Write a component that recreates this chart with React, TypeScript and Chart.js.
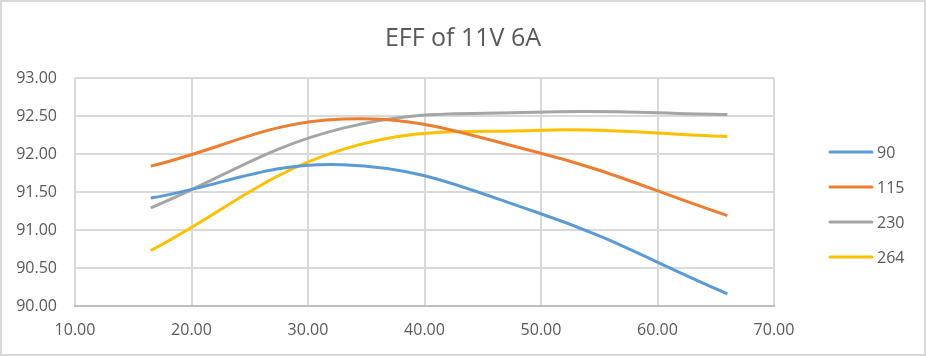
import React, { useEffect, useRef } from "react";
import { Chart, registerables } from "chart.js";

Chart.register(...registerables);

const chartTitle = "EFF of 11V 6A";
const loadWatts = [16.5, 33, 49.5, 66];
const seriesNames = ["90", "115", "230", "264"];
const eff90 = [91.42, 91.86, 91.24, 90.16];
const eff115 = [91.84, 92.46, 92.03, 91.19];
const eff230 = [91.29, 92.34, 92.55, 92.52];
const eff264 = [90.73, 92.06, 92.31, 92.23];
const seriesColors = ["#5B9BD5", "#ED7D31", "#A5A5A5", "#FFC000"];
const xMin = 10;
const xMax = 70;
const xStep = 10;
const yMin = 90;
const yMax = 93;
const yStep = 0.5;

const FONT = "'Open Sans', 'Noto Sans', sans-serif";
const TEXT = "#595959";

const decorPlugin = {
  id: "decor",
  beforeDraw(chart: any) {
    const ctx = chart.ctx;
    ctx.save();
    ctx.fillStyle = "#ffffff";
    ctx.fillRect(0, 0, chart.width, chart.height);
    ctx.restore();
  },
  afterDraw(chart: any) {
    const ctx = chart.ctx;
    ctx.save();
    // title
    ctx.fillStyle = TEXT;
    ctx.font = `25px ${FONT}`;
    ctx.textAlign = "center";
    ctx.textBaseline = "alphabetic";
    ctx.fillText(chartTitle, chart.width / 2, 46);
    // legend
    const lx0 = 830;
    const lx1 = 872;
    const startY = 152;
    const gap = 35;
    ctx.font = `16px ${FONT}`;
    ctx.textAlign = "left";
    ctx.textBaseline = "middle";
    chart.data.datasets.forEach((ds: any, i: number) => {
      const y = startY + i * gap;
      ctx.strokeStyle = ds.borderColor;
      ctx.lineWidth = 3;
      ctx.lineCap = "round";
      ctx.beginPath();
      ctx.moveTo(lx0, y);
      ctx.lineTo(lx1, y);
      ctx.stroke();
      ctx.fillStyle = TEXT;
      ctx.fillText(ds.label, 877, y + 1);
    });
    // outer border
    ctx.strokeStyle = "#d9d9d9";
    ctx.lineWidth = 2;
    ctx.strokeRect(1, 1, chart.width - 2, chart.height - 2);
    ctx.restore();
  },
};

export default function App() {
  const ref = useRef<HTMLCanvasElement | null>(null);

  useEffect(() => {
    document.body.style.margin = "0";
    const canvas = ref.current;
    if (!canvas) return;
    const allSeries = [eff90, eff115, eff230, eff264];
    const chart = new Chart(canvas, {
      type: "scatter",
      data: {
        datasets: allSeries.map((vals, i) => ({
          label: seriesNames[i],
          data: loadWatts.map((x, j) => ({ x, y: vals[j] })),
          borderColor: seriesColors[i],
          backgroundColor: seriesColors[i],
          showLine: true,
          borderWidth: 3,
          pointRadius: 0,
          pointHoverRadius: 0,
          tension: 0.4,
          fill: false,
        })),
      },
      options: {
        animation: false,
        responsive: false,
        devicePixelRatio: 1,
        layout: { padding: { left: 0, right: 152, top: 78, bottom: 0 } },
        plugins: {
          legend: { display: false },
          title: { display: false },
          tooltip: { enabled: false },
        },
        scales: {
          x: {
            type: "linear",
            min: xMin,
            max: xMax,
            afterFit: (s: any) => {
              s.height = 50;
            },
            ticks: {
              stepSize: xStep,
              color: TEXT,
              font: { family: FONT, size: 16 },
              padding: 15,
              callback: (v: any) => Number(v).toFixed(2),
            },
            grid: { color: "#d9d9d9", lineWidth: 2, drawTicks: false },
            border: { display: true, color: "#bfbfbf", width: 2 },
          },
          y: {
            type: "linear",
            min: yMin,
            max: yMax,
            afterFit: (s: any) => {
              s.width = 75;
            },
            ticks: {
              stepSize: yStep,
              color: TEXT,
              font: { family: FONT, size: 16 },
              padding: 18,
              callback: (v: any) => Number(v).toFixed(2),
            },
            grid: { color: "#d9d9d9", lineWidth: 2, drawTicks: false },
            border: { display: false },
          },
        },
      },
      plugins: [decorPlugin],
    } as any);
    return () => chart.destroy();
  }, []);

  return (
    <canvas
      ref={ref}
      width={926}
      height={356}
      style={{ display: "block", width: 926, height: 356 }}
    />
  );
}
